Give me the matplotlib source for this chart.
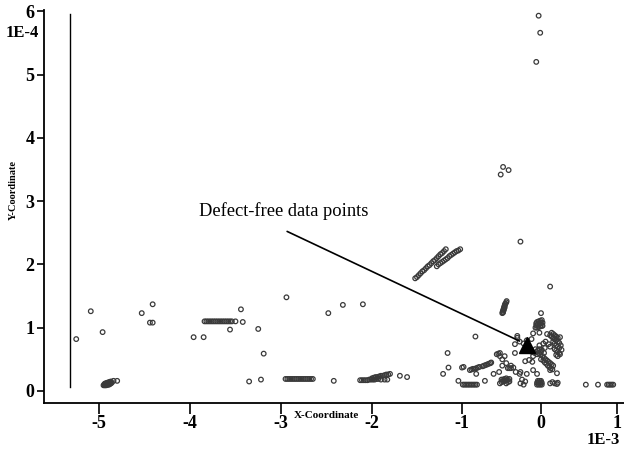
import numpy as np
import matplotlib
matplotlib.use("Agg")
import matplotlib.pyplot as plt
from matplotlib.scale import FuncScale

# ---------------- data ----------------
left_x = [-5.25, -5.09, -4.96,
          -4.95, -4.94, -4.93, -4.92, -4.91, -4.90, -4.89, -4.94, -4.93, -4.92, -4.91, -4.90,
          -4.89, -4.88, -4.87, -4.88, -4.87, -4.86, -4.84, -4.80,
          -4.53, -4.41, -4.44, -4.41, -3.96, -3.85]
left_y = [0.82, 1.26, 0.93,
          0.09, 0.09, 0.09, 0.09, 0.10, 0.10, 0.10, 0.11, 0.12, 0.12, 0.13, 0.13,
          0.14, 0.14, 0.15, 0.11, 0.12, 0.13, 0.16, 0.16,
          1.23, 1.37, 1.08, 1.08, 0.85, 0.85]

mid_x = [-3.84, -3.82, -3.80, -3.78, -3.76, -3.74, -3.72, -3.70, -3.68, -3.66, -3.64, -3.62,
         -3.60, -3.58, -3.56, -3.54, -3.50, -3.42,
         -3.44, -3.56, -3.25, -3.19, -3.35, -3.22,
         -2.95, -2.93, -2.91, -2.89, -2.87, -2.85, -2.83, -2.81, -2.79, -2.77, -2.75, -2.73,
         -2.71, -2.69, -2.67, -2.65,
         -2.42, -2.48, -2.32, -2.10, -2.94,
         -2.13, -2.11, -2.09, -2.07, -2.05, -2.03, -2.01, -1.99, -1.97, -1.95, -2.00, -1.98,
         -1.96, -1.94, -1.92, -1.90, -1.88, -1.86, -1.84, -1.82, -1.80, -1.93, -1.90, -1.86,
         -1.83, -1.69, -1.61]
mid_y = [1.10, 1.10, 1.10, 1.10, 1.10, 1.10, 1.10, 1.10, 1.10, 1.10, 1.10, 1.10,
         1.10, 1.10, 1.10, 1.10, 1.10, 1.09,
         1.29, 0.97, 0.98, 0.59, 0.15, 0.18,
         0.19, 0.19, 0.19, 0.19, 0.19, 0.19, 0.19, 0.19, 0.19, 0.19, 0.19, 0.19,
         0.19, 0.19, 0.19, 0.19,
         0.16, 1.23, 1.36, 1.37, 1.48,
         0.17, 0.17, 0.17, 0.17, 0.17, 0.18, 0.18, 0.18, 0.18, 0.19, 0.20, 0.21,
         0.22, 0.22, 0.23, 0.24, 0.24, 0.25, 0.26, 0.26, 0.27, 0.19, 0.18, 0.18,
         0.18, 0.24, 0.22]

diag_x = [-1.52, -1.50, -1.48, -1.46, -1.44, -1.42, -1.40, -1.38, -1.36, -1.34, -1.32, -1.30,
          -1.28, -1.26, -1.24, -1.22, -1.20, -1.18,
          -1.28, -1.26, -1.24, -1.22, -1.20, -1.18, -1.16, -1.14, -1.12, -1.10, -1.08, -1.06,
          -1.04, -1.02]
diag_y = [1.78, 1.80, 1.83, 1.86, 1.89, 1.91, 1.94, 1.97, 1.99, 2.02, 2.05, 2.07,
          2.10, 2.13, 2.16, 2.18, 2.21, 2.24,
          1.97, 2.00, 2.02, 2.04, 2.06, 2.08, 2.10, 2.13, 2.15, 2.17, 2.19, 2.21,
          2.22, 2.24]

top_x = [-0.03, -0.01, -0.06, -0.48, -0.41, -0.51, -0.26, 0.12, 0.00,
         -0.49, -0.485, -0.48, -0.475, -0.47, -0.465, -0.46, -0.455, -0.45, -0.44, -0.435,
         -0.48, -0.47, -0.46]
top_y = [5.93, 5.66, 5.20, 3.54, 3.49, 3.42, 2.36, 1.65, 1.23,
         1.23, 1.25, 1.27, 1.29, 1.31, 1.33, 1.35, 1.37, 1.38, 1.40, 1.42,
         1.24, 1.28, 1.32]

right_x = [-1.21, -1.15, -1.16, -0.83, -1.00, -0.98,
           -1.04, -0.99, -0.97, -0.95, -0.93, -0.91, -0.89, -0.87, -0.85, -0.83, -0.81, -0.71,
           -0.90, -0.88, -0.86, -0.84, -0.82, -0.80, -0.78, -0.74, -0.72, -0.70, -0.68, -0.66,
           -0.64, -0.63, -0.82,
           -0.07, -0.05, -0.03, -0.01, 0.01, -0.06, -0.04, -0.02, 0.00, 0.02, -0.05, -0.03,
           -0.01, 0.01, -0.06, 0.02, -0.02, -0.10,
           0.14, 0.16, 0.18, 0.20, 0.22, 0.14, 0.16, 0.18, 0.20, 0.22, 0.24, 0.16, 0.18, 0.20,
           0.22, 0.24, 0.18, 0.20, 0.22, 0.24, 0.20, 0.22, 0.25, 0.12, 0.10,
           0.08, 0.12, 0.25, 0.26, 0.27, 0.06, 0.03,
           -0.30, -0.27, -0.22, -0.18, -0.33, -0.12,
           -0.08, -0.06, -0.04, -0.02, 0.00, -0.05, -0.03, -0.01, 0.01, -0.07,
           -0.12, 0.04, -0.10, 0.05, -0.02,
           0.02, 0.04, 0.06, 0.08, 0.10, 0.12, 0.14, 0.16, 0.03, 0.05, 0.07, 0.09, 0.11, 0.13,
           0.15, 0.00,
           -0.56, -0.52, -0.54, -0.52, -0.46, -0.49, -0.44, -0.38, -0.49,
           -0.42, -0.40, -0.38, -0.35,
           -0.20, -0.15, -0.11, -0.33, -0.30, -0.32, -0.60, -0.53, -0.26, -0.18, -0.10, 0.12,
           0.21, -0.05, -0.27,
           -0.50, -0.48, -0.46, -0.44, -0.42, -0.40, -0.48, -0.46, -0.44, -0.42, -0.40, -0.50,
           -0.52, -0.44,
           -0.26, -0.22, -0.20, -0.24,
           -0.05, -0.03, -0.01, 0.01, -0.05, -0.03, -0.01, 0.01, -0.04, -0.02, 0.00,
           0.12, 0.15, 0.18, 0.21, 0.22,
           0.59, 0.75, 0.87, 0.89, 0.91, 0.93, 0.95]
right_y = [0.27, 0.37, 0.60, 0.86, 0.37, 0.38,
           0.16, 0.10, 0.10, 0.10, 0.10, 0.10, 0.10, 0.10, 0.10, 0.10, 0.10, 0.16,
           0.33, 0.34, 0.35, 0.35, 0.36, 0.37, 0.38, 0.39, 0.40, 0.41, 0.42, 0.43,
           0.44, 0.45, 0.27,
           1.00, 1.00, 1.01, 1.02, 1.03, 1.04, 1.05, 1.06, 1.07, 1.08, 1.09, 1.10,
           1.11, 1.12, 1.07, 1.03, 0.92, 0.91,
           0.92, 0.90, 0.88, 0.86, 0.84, 0.86, 0.84, 0.82, 0.80, 0.78, 0.76, 0.78, 0.75, 0.72,
           0.70, 0.68, 0.66, 0.64, 0.62, 0.60, 0.57, 0.55, 0.58, 0.70, 0.74,
           0.90, 0.88, 0.85, 0.72, 0.65, 0.78, 0.75,
           0.84, 0.78, 0.75, 0.80, 0.74, 0.82,
           0.60, 0.62, 0.64, 0.66, 0.62, 0.58, 0.60, 0.58, 0.65, 0.66,
           0.62, 0.60, 0.55, 0.68, 0.72,
           0.55, 0.52, 0.50, 0.48, 0.46, 0.44, 0.42, 0.40, 0.48, 0.45, 0.43, 0.40, 0.38, 0.36,
           0.34, 0.50,
           0.58, 0.60, 0.59, 0.55, 0.55, 0.50, 0.44, 0.40, 0.40,
           0.36, 0.36, 0.36, 0.37,
           0.47, 0.49, 0.46, 0.60, 0.87, 0.30, 0.27, 0.30, 0.30, 0.27, 0.33, 0.33,
           0.28, 0.27, 0.27,
           0.14, 0.15, 0.16, 0.17, 0.18, 0.19, 0.18, 0.19, 0.20, 0.14, 0.15, 0.18,
           0.12, 0.12,
           0.12, 0.10, 0.15, 0.18,
           0.10, 0.10, 0.10, 0.10, 0.13, 0.13, 0.13, 0.13, 0.16, 0.16, 0.16,
           0.12, 0.14, 0.12, 0.11, 0.13,
           0.10, 0.10, 0.10, 0.10, 0.10, 0.10, 0.10]

vline_x = -5.32
vline_y = [0.07, 5.95]

marker_pt = (-0.18, 0.73)
arrow_tail = (-2.96, 2.54)
arrow_head = (-0.24, 0.77)
annot_text = "Defect-free data points"

x_ticks = [-5, -4, -3, -2, -1, 0, 1]
x_labels = ["-5", "-4", "-3", "-2", "-1", "0", "1"]
y_ticks = [0, 1, 2, 3, 4, 5, 6]
y_labels = ["0", "1", "2", "3", "4", "5", "6"]

# ---------------- axis scale (original x axis is unevenly spaced) ----------------
knot_d = np.array([-7, -5, -4, -3, -2, -1, 0, 1, 3], dtype=float)
knot_p = np.array([-83, 99, 190, 281, 372, 462, 541, 617, 769], dtype=float)

def fwd(x):
    return np.interp(x, knot_d, knot_p)

def inv(p):
    return np.interp(p, knot_p, knot_d)

# ---------------- figure ----------------
serif = ["Liberation Serif", "DejaVu Serif"]
fig = plt.figure(figsize=(6.24, 4.49), dpi=100)
ax = fig.add_axes([44 / 624, 46 / 449, 580 / 624, 393 / 449])
ax.set_xscale(FuncScale(ax.xaxis, (fwd, inv)))

edge = "#3a3a3a"
for xs, ys in [(left_x, left_y), (mid_x, mid_y), (diag_x, diag_y),
               (top_x, top_y), (right_x, right_y)]:
    ax.scatter(xs, ys, s=11, facecolors="none", edgecolors=edge, linewidths=0.9, zorder=3)

ax.plot([vline_x, vline_x], vline_y, color="black", lw=1.0)

ax.annotate("", xy=arrow_head, xytext=arrow_tail,
            arrowprops=dict(arrowstyle="-", color="black", lw=1.2), zorder=4)
ax.plot([marker_pt[0]], [marker_pt[1]], marker="^", color="black", ms=11, zorder=5)
ax.text(-3.9, 2.85, annot_text, fontsize=13.3, family=serif, va="center", ha="left")

ax.set_xlim(-5.604, 1.092)
ax.set_ylim(-0.19, 6.02)

ax.set_xticks(x_ticks)
ax.set_xticklabels(x_labels)
ax.set_yticks(y_ticks)
ax.set_yticklabels(y_labels)
for lab in ax.get_xticklabels() + ax.get_yticklabels():
    lab.set_family(serif)
    lab.set_fontweight("bold")
    lab.set_fontsize(13)

ax.tick_params(axis="x", direction="out", length=8, width=1.2, pad=0.5)
ax.tick_params(axis="y", direction="out", length=5, width=1.2, pad=2)

for s in ["top", "right"]:
    ax.spines[s].set_visible(False)
for s in ["left", "bottom"]:
    ax.spines[s].set_linewidth(1.3)

fig.text(326 / 624, 1 - 416 / 449, "X-Coordinate", fontsize=8, fontweight="bold",
         family=serif, ha="center", va="center")
fig.text(13 / 624, 1 - 190 / 449, "Y-Coordinate", fontsize=7.5, fontweight="bold",
         family=serif, ha="center", va="center", rotation=90)
fig.text(22 / 624, 1 - 33 / 449, "1E-4", fontsize=12, fontweight="bold",
         family=serif, ha="center", va="center")
fig.text(603 / 624, 1 - 440 / 449, "1E-3", fontsize=12, fontweight="bold",
         family=serif, ha="center", va="center")

fig.savefig("out.png", dpi=100)
